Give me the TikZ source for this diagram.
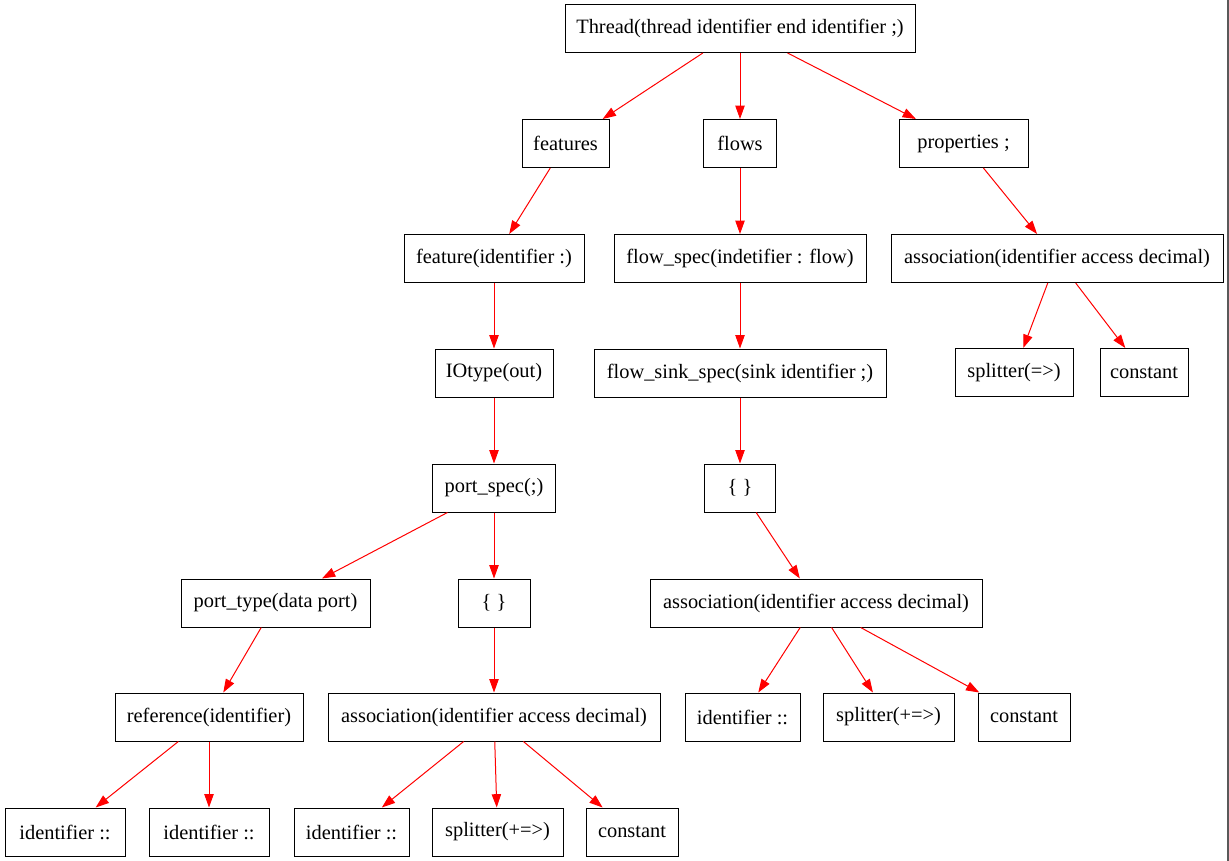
\documentclass[tikz,border=0pt]{standalone}
\usepackage{fontspec}
\setmainfont{Liberation Serif}
\usetikzlibrary{arrows.meta}
\begin{document}
\begin{tikzpicture}[x=0.75pt, y=-0.75pt,
  tnode/.style={draw=black, line width=0.75pt, rectangle, minimum height=36pt,
    inner xsep=0pt, inner ysep=0pt, font=\fontsize{15.3pt}{17pt}\selectfont},
  tedge/.style={draw=red, line width=0.75pt,
    -{Triangle[length=10pt, width=7pt, fill=red]}}]
  \useasboundingbox (0,0) rectangle (1229,861);
  \fill[white] (0,0) rectangle (1229,861);
  \draw[gray!70!black, line width=1.5pt] (1228,0) -- (1228,861);

  % tree nodes, row by row
  \node[tnode, minimum width=262.5pt] (thread) at (740,28.5) {Thread(thread identifier end identifier ;)};

  \node[tnode, minimum width=65.25pt] (features) at (565.5,143.5) {features};
  \node[tnode, minimum width=54.75pt] (flows) at (740,143.5) {flows};
  \node[tnode, minimum width=96.75pt] (props) at (963.5,143.5) {properties ;};

  \node[tnode, minimum width=135pt] (feature) at (494,258.5) {feature(identifier :)};
  \node[tnode, minimum width=189pt] (flowspec) at (740,258.5) {flow\_spec(indetifier : flow)};
  \node[tnode, minimum width=249pt] (assocR) at (1057,258.5) {association(identifier access decimal)};

  \node[tnode, minimum width=88.5pt] (iotype) at (494,373) {IOtype(out)};
  \node[tnode, minimum width=219pt] (sink) at (740,373) {flow\_sink\_spec(sink identifier ;)};
  \node[tnode, minimum width=88.5pt] (splR) at (1014,372.5) {splitter(=>)};
  \node[tnode, minimum width=66pt] (constR) at (1144,372.5) {constant};

  \node[tnode, minimum width=92.25pt] (portspec) at (494,488) {port\_spec(;)};
  \node[tnode, minimum width=53.25pt] (braceM) at (740,488) {\{ \}};

  \node[tnode, minimum width=141.75pt] (porttype) at (275.5,603) {port\_type(data port)};
  \node[tnode, minimum width=54pt] (braceL) at (494,603) {\{ \}};
  \node[tnode, minimum width=249pt] (assocM) at (816,603) {association(identifier access decimal)};

  \node[tnode, minimum width=141pt] (ref) at (209,717) {reference(identifier)};
  \node[tnode, minimum width=249pt] (assocL) at (494,717) {association(identifier access decimal)};
  \node[tnode, minimum width=86.25pt] (idM) at (742.5,717) {identifier ::};
  \node[tnode, minimum width=98.25pt] (splM) at (888.5,717) {splitter(+=>)};
  \node[tnode, minimum width=69pt] (constM) at (1024,717) {constant};

  \node[tnode, minimum width=90pt] (idA) at (65,832) {identifier ::};
  \node[tnode, minimum width=90pt] (idB) at (209,832) {identifier ::};
  \node[tnode, minimum width=86.25pt] (idC) at (351.5,832) {identifier ::};
  \node[tnode, minimum width=98.25pt] (splL) at (497.5,832) {splitter(+=>)};
  \node[tnode, minimum width=69pt] (constL) at (632,832) {constant};

  % parent-to-child edges
  \draw[tedge] (thread) -- (features);
  \draw[tedge] (thread) -- (flows);
  \draw[tedge] (thread) -- (props);
  \draw[tedge] (features) -- (feature);
  \draw[tedge] (flows) -- (flowspec);
  \draw[tedge] (props) -- (assocR);
  \draw[tedge] (feature) -- (iotype);
  \draw[tedge] (flowspec) -- (sink);
  \draw[tedge] (assocR) -- (splR);
  \draw[tedge] (assocR) -- (constR);
  \draw[tedge] (iotype) -- (portspec);
  \draw[tedge] (sink) -- (braceM);
  \draw[tedge] (portspec) -- (porttype);
  \draw[tedge] (portspec) -- (braceL);
  \draw[tedge] (braceM) -- (assocM);
  \draw[tedge] (porttype) -- (ref);
  \draw[tedge] (braceL) -- (assocL);
  \draw[tedge] (assocM) -- (idM);
  \draw[tedge] (assocM) -- (splM);
  \draw[tedge] (assocM) -- (constM);
  \draw[tedge] (ref) -- (idA);
  \draw[tedge] (ref) -- (idB);
  \draw[tedge] (assocL) -- (idC);
  \draw[tedge] (assocL) -- (splL);
  \draw[tedge] (assocL) -- (constL);
\end{tikzpicture}
\end{document}
